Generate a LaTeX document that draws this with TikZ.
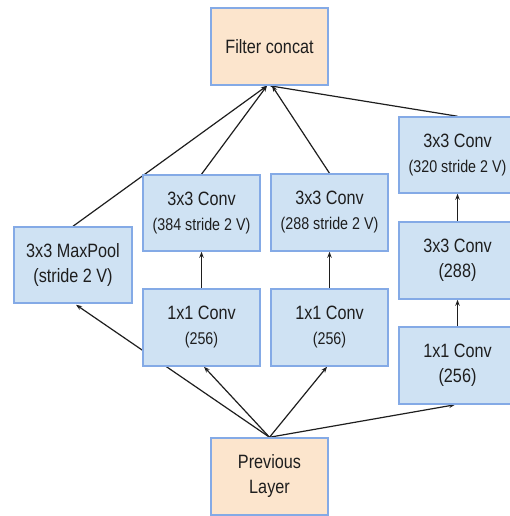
\documentclass[tikz,border=0pt]{standalone}
\usepackage{fontspec}
\setmainfont{Liberation Sans}[FakeStretch=0.84]
\usetikzlibrary{arrows.meta,backgrounds}
\definecolor{boxblue}{HTML}{CFE2F3}
\definecolor{boxpeach}{HTML}{FCE5CD}
\definecolor{edgeblue}{HTML}{84AAE6}
\definecolor{inkc}{HTML}{1E1E1E}
\newcommand{\smallline}{\fontsize{17}{25}\selectfont}
\tikzset{
  layerbox/.style={draw=edgeblue, line width=1.5pt, inner sep=0pt,
    minimum width=117pt, minimum height=77pt, align=center,
    text=inkc, font=\fontsize{19.3}{25}\selectfont},
  bluebox/.style={layerbox, fill=boxblue},
  peachbox/.style={layerbox, fill=boxpeach},
  conn/.style={draw=inkc, line width=1.2pt, -{Stealth[length=6pt,width=4.5pt]}}
}
\begin{document}
\begin{tikzpicture}[x=1pt,y=-1pt]
\useasboundingbox (0,0) rectangle (510,516);
\clip (0,0) rectangle (510,516);
\node[peachbox] (concat) at (269.5,46.5) {Filter concat};
\node[peachbox] (prev) at (269.5,476.5) {Previous\\Layer};
\node[bluebox, minimum width=118pt, minimum height=76pt] (pool) at (73,265) {3x3 MaxPool\\(stride 2 V)};
\node[bluebox, minimum height=76pt] (c3L) at (201.5,213) {3x3 Conv\\\smallline(384 stride 2 V)};
\node[bluebox] (c3M) at (329.5,212.5) {3x3 Conv\\\smallline(288 stride 2 V)};
\node[bluebox] (c1L) at (201.5,327.5) {1x1 Conv\\\smallline(256)};
\node[bluebox] (c1M) at (329.5,327.5) {1x1 Conv\\\smallline(256)};
\node[bluebox, minimum height=76pt] (r3a) at (457.5,155) {3x3 Conv\\\smallline(320 stride 2 V)};
\node[bluebox] (r3b) at (457.5,260.5) {3x3 Conv\\(288)};
\node[bluebox] (r1) at (457.5,365.5) {1x1 Conv\\(256)};
\begin{pgfonlayer}{background}
\draw[conn] (prev.north) -- ([xshift=3pt,yshift=-1pt]pool.south);
\draw[conn] (prev.north) -- ([xshift=2.5pt]c1L.south);
\draw[conn] (prev.north) -- ([xshift=-2.5pt]c1M.south);
\draw[conn] (prev.north) -- ([xshift=-2.5pt]r1.south);
\draw[conn] (c1L.north) -- (c3L.south);
\draw[conn] (c1M.north) -- (c3M.south);
\draw[conn] (r1.north) -- (r3b.south);
\draw[conn] (r3b.north) -- (r3a.south);
\draw[conn] (pool.north) -- ([xshift=-2.5pt]concat.south);
\draw[conn] (c3L.north) -- ([xshift=-2.5pt]concat.south);
\draw[conn] (c3M.north) -- ([xshift=2.5pt]concat.south);
\draw[conn] (r3a.north) -- (concat.south);
\end{pgfonlayer}
\end{tikzpicture}
\end{document}
